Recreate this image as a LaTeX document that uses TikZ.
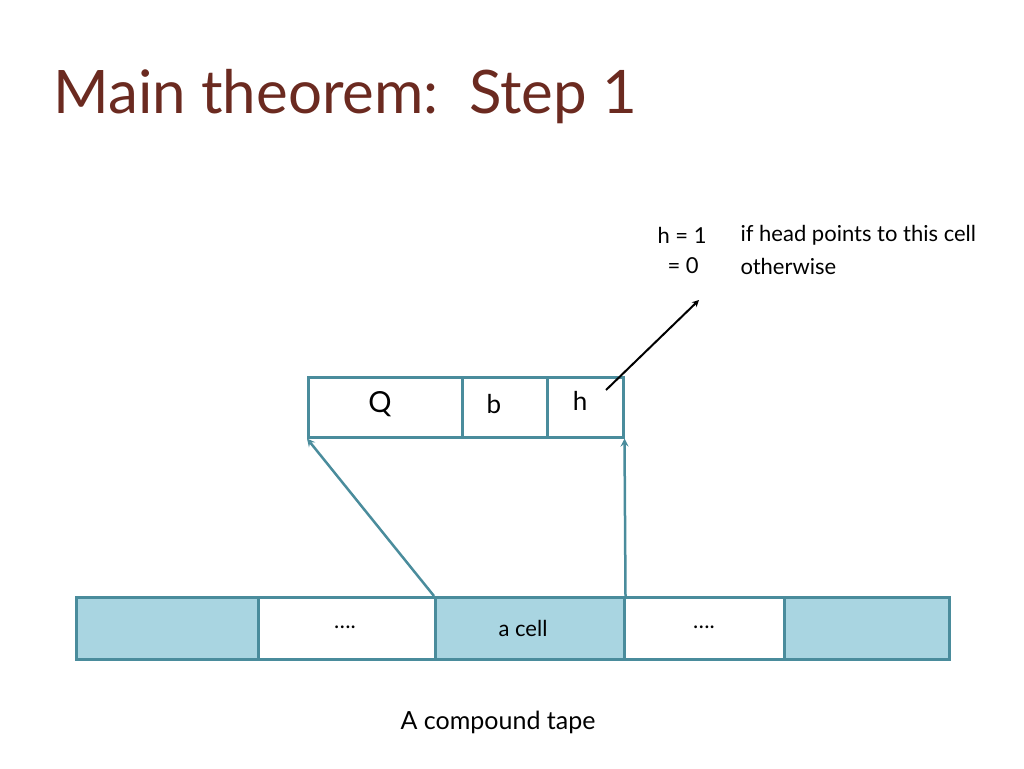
\documentclass[tikz,border=0pt]{standalone}
\usepackage{fontspec}
\setmainfont{Lato}
\begin{document}
\begin{tikzpicture}[x=1pt,y=-1pt]
\definecolor{tl}{HTML}{4A8C9C}
\definecolor{tf}{HTML}{A9D5E1}
\definecolor{tt}{HTML}{6B2A20}
\tikzset{cellb/.style={draw=tl, line width=2.5pt, fill=tf},
  cellw/.style={draw=tl, line width=2.5pt, fill=white},
  rec/.style={draw=tl, line width=2.5pt},
  conn/.style={draw=tl, line width=2.5pt, ->, >=stealth},
  lbl/.style={font=\fontsize{22}{26}\selectfont}}
\useasboundingbox (0,0) rectangle (1024,768);
\node[anchor=west, text=tt, font=\fontsize{60}{64}\selectfont] (title) at (50,97) {Main theorem:\, Step 1};
% tape
\node[cellb, minimum width=182pt, minimum height=62pt, anchor=north west] (c1) at (75,596) {};
\node[cellw, minimum width=177pt, minimum height=62pt, anchor=north west] (c2) at (257,596) {};
\node[cellb, minimum width=189pt, minimum height=62pt, anchor=north west] (c3) at (434,596) {};
\node[cellw, minimum width=160pt, minimum height=62pt, anchor=north west] (c4) at (623,596) {};
\node[cellb, minimum width=165pt, minimum height=62pt, anchor=north west] (c5) at (783,596) {};
\node[lbl] (d1) at (345,627) {….};
\node[lbl] (ac) at (523,628) {a cell};
\node[lbl] (d2) at (704,627) {….};
% record
\node[rec, minimum width=154pt, minimum height=60pt, anchor=north west] (rq) at (307,376) {};
\node[rec, minimum width=85pt, minimum height=60pt, anchor=north west] (rb) at (461,376) {};
\node[rec, minimum width=76pt, minimum height=60pt, anchor=north west] (rh) at (546,376) {};
\node[font=\fontsize{29}{32}\selectfont] (Q) at (380,404) {Q};
\node[font=\fontsize{26}{30}\selectfont] (b) at (494,404) {b};
\node[font=\fontsize{26}{30}\selectfont] (h) at (580,401) {h};
\draw[conn] (c3.north west) -- (rq.south west);
\draw[conn] (c3.north east) -- (rh.south east);
\coordinate (hs) at (606,390);
\coordinate (he) at (699,300);
\draw[line width=2pt, ->, >=stealth] (hs) -- (he);
\node[lbl, anchor=west] (t1) at (654,235) {h = 1};
\node[lbl, anchor=west] (t2) at (737,235) {if head points to this cell};
\node[lbl, anchor=west] (t3) at (664,266) {= 0};
\node[lbl, anchor=west] (t4) at (737,266) {otherwise};
\node[font=\fontsize{25}{30}\selectfont] (cap) at (498,722) {A compound tape};
\end{tikzpicture}
\end{document}
